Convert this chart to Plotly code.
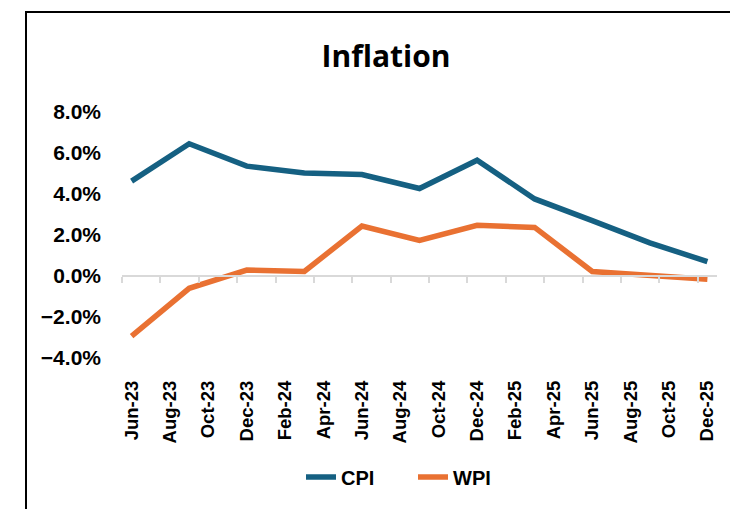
import plotly.graph_objects as go

# Monthly axis categories (Jun-23 .. Dec-25)
months = ["Jun-23", "Jul-23", "Aug-23", "Sep-23", "Oct-23", "Nov-23", "Dec-23",
          "Jan-24", "Feb-24", "Mar-24", "Apr-24", "May-24", "Jun-24", "Jul-24",
          "Aug-24", "Sep-24", "Oct-24", "Nov-24", "Dec-24", "Jan-25", "Feb-25",
          "Mar-25", "Apr-25", "May-25", "Jun-25", "Jul-25", "Aug-25", "Sep-25",
          "Oct-25", "Nov-25", "Dec-25"]
tick_labels = months[::2]

# Quarterly observations
obs_months = ["Jun-23", "Sep-23", "Dec-23", "Mar-24", "Jun-24", "Sep-24",
              "Dec-24", "Mar-25", "Jun-25", "Sep-25", "Dec-25"]
cpi = [4.63, 6.45, 5.36, 5.03, 4.95, 4.27, 5.65, 3.76, 2.70, 1.62, 0.70]
wpi = [-2.93, -0.60, 0.29, 0.22, 2.44, 1.74, 2.47, 2.37, 0.22, 0.02, -0.16]

x_idx = [months.index(m) for m in obs_months]
tick_idx = [months.index(m) for m in tick_labels]
boundary_idx = [i - 0.5 for i in tick_idx]

BOLD = dict(family="Liberation Sans, Arial, sans-serif", color="#000000", weight="bold")

fig = go.Figure()
fig.add_trace(go.Scatter(x=x_idx, y=cpi, name="CPI", mode="lines",
                         line=dict(color="#156082", width=5.5)))
fig.add_trace(go.Scatter(x=x_idx, y=wpi, name="WPI", mode="lines",
                         line=dict(color="#E97132", width=5.5)))
# invisible trace for the crossing axis at 0
fig.add_trace(go.Scatter(x=[None], y=[None], xaxis="x2", showlegend=False,
                         hoverinfo="skip"))

fig.update_layout(
    width=730, height=509,
    margin=dict(l=122, r=13, t=112, b=151),
    paper_bgcolor="white", plot_bgcolor="white",
    title=dict(text="Inflation", x=386/730, xref="container", xanchor="center",
               y=1-56/509, yref="container", yanchor="middle",
               font=dict(family="Open Sans, sans-serif", size=30, color="#000000",
                         weight="bold")),
    xaxis=dict(range=[-0.5, len(months) - 0.5], tickmode="array",
               tickvals=tick_idx, ticktext=tick_labels, tickangle=-90,
               ticks="", showline=False, showgrid=False, zeroline=False,
               tickfont=dict(size=18.5, **BOLD), ticklabelstandoff=18),
    xaxis2=dict(overlaying="x", anchor="free", position=1/3, side="bottom",
                range=[-0.5, len(months) - 0.5], tickmode="array",
                tickvals=boundary_idx, showticklabels=False,
                ticks="outside", ticklen=6, tickwidth=1.5, tickcolor="#d9d9d9",
                showline=True, linecolor="#d9d9d9", linewidth=1.5,
                showgrid=False, zeroline=False),
    yaxis=dict(range=[-4, 8], dtick=2, tickformat=".1f", ticksuffix="%",
               showgrid=False, zeroline=False, showline=False, ticks="",
               tickfont=dict(size=21, **BOLD), ticklabelstandoff=20),
    legend=dict(orientation="h", x=(301-122)/595, xanchor="left", y=-0.484,
                yanchor="middle", font=dict(size=20, **BOLD),
                entrywidth=67, entrywidthmode="pixels", tracegroupgap=0),
    showlegend=True,
    shapes=[dict(type="rect", xref="paper", yref="paper",
                 x0=(26-122)/595, x1=1.2, y0=-1.0, y1=(358-12)/246,
                 line=dict(color="#000000", width=2), fillcolor="rgba(0,0,0,0)",
                 layer="below")],
)

fig.write_html("out.html", config={"displayModeBar": False},
               post_script="document.body.style.margin='0';")
